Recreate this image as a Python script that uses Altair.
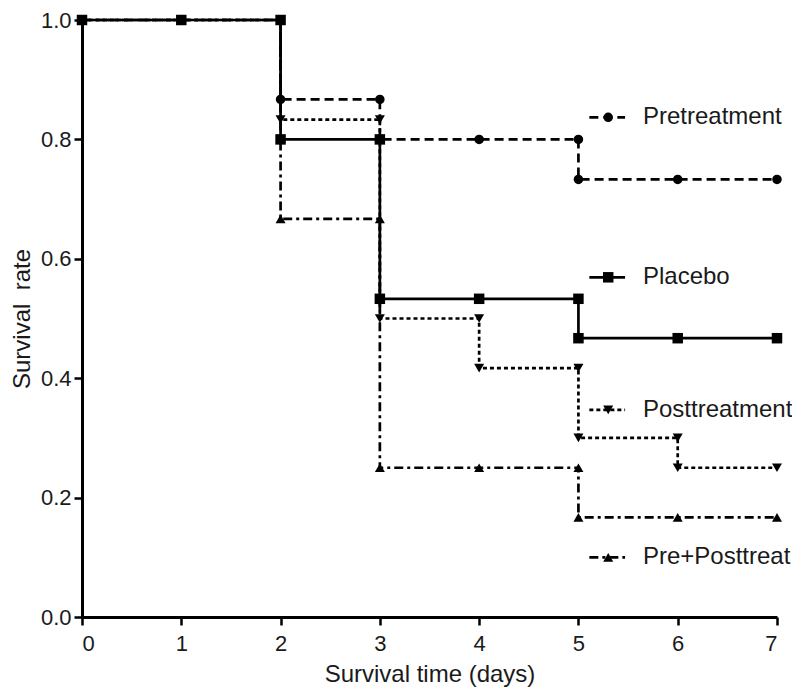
import altair as alt
import pandas as pd

# ---- data ----
days = [0, 1, 2, 3, 4, 5, 6, 7]
series_names = ["Pretreatment", "Placebo", "Posttreatment", "Pre+Posttreat"]
pretreatment = [1.0, 1.0, 0.867, 0.800, 0.800, 0.733, 0.733, 0.733]
placebo = [1.0, 1.0, 0.800, 0.533, 0.533, 0.467, 0.467, 0.467]
posttreatment = [1.0, 1.0, 0.833, 0.500, 0.417, 0.300, 0.250, 0.250]
pre_posttreat = [1.0, 1.0, 0.667, 0.250, 0.250, 0.167, 0.167, 0.167]
x_ticks = [0, 1, 2, 3, 4, 5, 6, 7]
y_ticks = [0.0, 0.2, 0.4, 0.6, 0.8, 1.0]

# ---- layout / style ----
label_y = [0.837, 0.569, 0.347, 0.100]       # inline legend rows (data units)
legend_x = {"seg0": 5.11, "seg1": 5.47, "mark": 5.30, "text": 5.65}
dashes = {"Pretreatment": [9, 5], "Placebo": [1, 0],
          "Posttreatment": [4, 3], "Pre+Posttreat": [9, 4, 3, 4]}
shapes = {"Pretreatment": "circle", "Placebo": "square",
          "Posttreatment": "triangle-down", "Pre+Posttreat": "triangle-up"}
sizes = {"Pretreatment": 90, "Placebo": 110,
         "Posttreatment": 100, "Pre+Posttreat": 100}
draw_order = ["Pre+Posttreat", "Posttreatment", "Pretreatment", "Placebo"]
FONT = "Liberation Sans"
LW = 2.7

values = dict(zip(series_names, [pretreatment, placebo, posttreatment, pre_posttreat]))

x_enc = alt.X("day:Q", scale=alt.Scale(domain=[0, 7], nice=False, zero=False),
              axis=alt.Axis(values=x_ticks, format="d", title="Survival time (days)"))
y_enc = alt.Y("value:Q", scale=alt.Scale(domain=[0, 1], nice=False),
              axis=alt.Axis(values=y_ticks, format=".1f", title="Survival\u00a0\u00a0rate"))

layers = []
for s in draw_order:
    v = values[s]
    line_df = pd.DataFrame({"day": days, "value": v})
    pts = []
    for i, d in enumerate(days):
        if i > 0 and v[i] != v[i - 1]:
            pts.append((d, v[i - 1]))
        pts.append((d, v[i]))
    if s != "Placebo":
        pts = [p for p in pts if p[1] < 1.0]
    pt_df = pd.DataFrame(pts, columns=["day", "value"])
    layers.append(
        alt.Chart(line_df).mark_line(interpolate="step-after", color="black",
                                     strokeWidth=LW, strokeDash=dashes[s])
        .encode(x=x_enc, y=y_enc)
    )
    layers.append(
        alt.Chart(pt_df).mark_point(shape=shapes[s], filled=True, size=sizes[s],
                                    color="black", opacity=1)
        .encode(x=x_enc, y=y_enc)
    )

# inline legend
for s, ly in zip(series_names, label_y):
    seg = pd.DataFrame({"day": [legend_x["seg0"]], "day2": [legend_x["seg1"]], "value": [ly]})
    layers.append(
        alt.Chart(seg).mark_rule(color="black", strokeWidth=LW, strokeDash=dashes[s])
        .encode(x=x_enc, x2=alt.X2("day2"), y=y_enc)
    )
    mk = pd.DataFrame({"day": [legend_x["mark"]], "value": [ly]})
    layers.append(
        alt.Chart(mk).mark_point(shape=shapes[s], filled=True, size=sizes[s],
                                 color="black", opacity=1)
        .encode(x=x_enc, y=y_enc)
    )
    tx = pd.DataFrame({"day": [legend_x["text"]], "value": [ly], "label": [s]})
    layers.append(
        alt.Chart(tx).mark_text(align="left", baseline="middle", font=FONT,
                                fontSize=24, color="#1a1a1a")
        .encode(x=x_enc, y=y_enc, text="label:N")
    )

chart = (
    alt.layer(*layers)
    .properties(width=695, height=597,
                autosize=alt.AutoSizeParams(type="none"),
                padding={"left": 74, "top": 12, "right": 15, "bottom": 71},
                background="white")
    .configure_view(stroke=None)
    .configure_axis(
        grid=False, domainColor="black", domainWidth=3, tickColor="black",
        tickWidth=2.5, tickSize=8, labelColor="#1a1a1a", labelFont=FONT,
        labelFontSize=22, titleFont=FONT, titleFontSize=24, titleFontWeight="normal",
        titleColor="#1a1a1a",
    )
    .configure_axisX(labelPadding=8, titlePadding=8)
    .configure_axisY(labelPadding=3, titlePadding=6)
)

chart.save("out.html", embed_options={"renderer": "svg", "actions": False})
